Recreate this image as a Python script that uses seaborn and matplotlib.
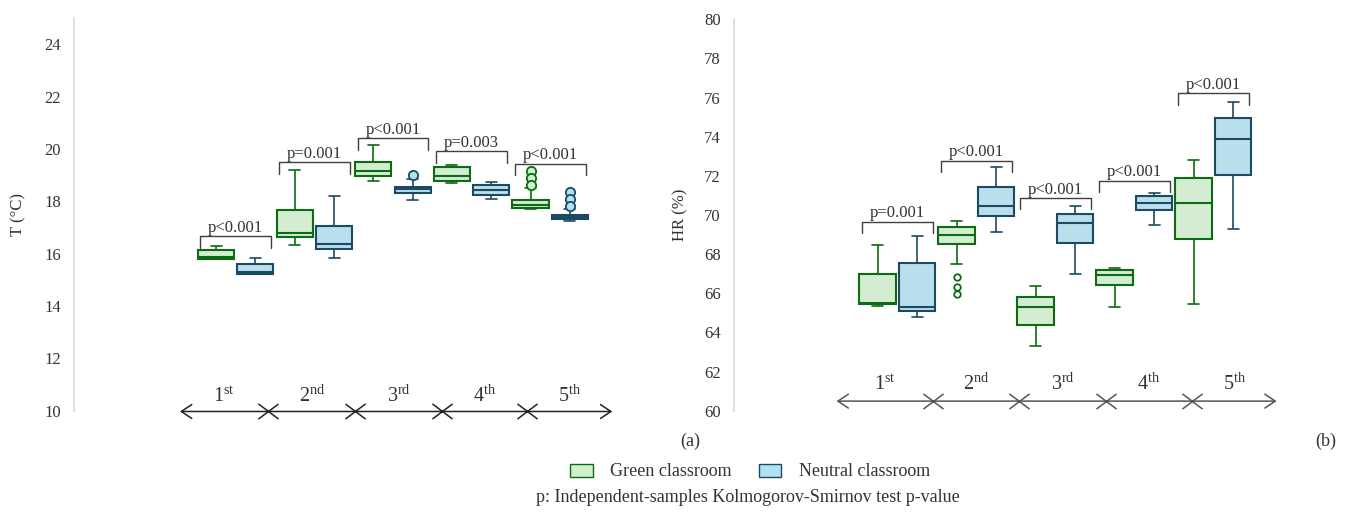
import numpy as np
import pandas as pd
import matplotlib
matplotlib.use("Agg")
import matplotlib.pyplot as plt
from matplotlib.patches import Patch
from matplotlib.path import Path
import seaborn as sns

# ---------------- data ----------------
periods = ["1st", "2nd", "3rd", "4th", "5th"]
period_labels = [r"1$^{\mathrm{st}}$", r"2$^{\mathrm{nd}}$", r"3$^{\mathrm{rd}}$",
                 r"4$^{\mathrm{th}}$", r"5$^{\mathrm{th}}$"]
rooms = ["Green classroom", "Neutral classroom"]

# five-number summaries: [lower whisker, Q1, median, Q3, upper whisker]
t_green = [[15.78, 15.81, 15.89, 16.13, 16.30],
           [16.34, 16.64, 16.80, 17.68, 19.19],
           [18.78, 18.99, 19.17, 19.50, 20.14],
           [18.70, 18.79, 18.96, 19.33, 19.41],
           [17.71, 17.75, 17.88, 18.06, 18.50]]
t_blue = [[15.21, 15.23, 15.31, 15.60, 15.82],
          [15.85, 16.18, 16.36, 17.07, 18.22],
          [18.07, 18.34, 18.46, 18.57, 18.86],
          [18.09, 18.24, 18.44, 18.63, 18.75],
          [17.27, 17.31, 17.40, 17.49, 17.72]]
t_green_out = [[], [], [], [], [19.18, 18.91, 18.63]]
t_blue_out = [[], [], [19.02], [], [18.36, 18.10, 17.84]]

hr_green = [[65.37, 65.47, 65.52, 66.96, 68.49],
            [67.52, 68.51, 69.00, 69.39, 69.68],
            [63.29, 64.36, 65.28, 65.83, 66.37],
            [65.30, 66.40, 66.93, 67.19, 67.30],
            [65.43, 68.75, 70.63, 71.89, 72.79]]
hr_blue = [[64.81, 65.11, 65.28, 67.56, 68.93],
           [69.15, 69.94, 70.48, 71.43, 72.44],
           [67.00, 68.56, 69.61, 70.04, 70.48],
           [69.50, 70.26, 70.63, 70.99, 71.14],
           [69.29, 72.03, 73.88, 74.98, 75.78]]
hr_green_out = [[], [66.83, 66.32, 65.98], [], [], []]
hr_blue_out = [[], [], [], [], []]

t_p = ["p<0.001", "p=0.001", "p<0.001", "p=0.003", "p<0.001"]
hr_p = ["p=0.001", "p<0.001", "p<0.001", "p<0.001", "p<0.001"]
t_bracket = [16.66, 19.50, 20.42, 19.91, 19.44]
hr_bracket = [69.66, 72.77, 70.87, 71.75, 76.21]

# period arrow boundaries (in group-axis units)
t_segments = [-0.71, 0.41, 1.52, 2.62, 3.70, 4.79]
hr_segments = [-0.77, 0.45, 1.54, 2.64, 3.73, 4.80]

# ---------------- style ----------------
sns.set_theme(style="white")
plt.rcParams["font.family"] = ["Liberation Serif", "DejaVu Serif"]
plt.rcParams["mathtext.fontset"] = "custom"
plt.rcParams["mathtext.rm"] = "Liberation Serif"
plt.rcParams["mathtext.it"] = "Liberation Serif:italic"
plt.rcParams["mathtext.bf"] = "Liberation Serif:bold"

fills = ["#CFF0CE", "#B1E2F4"]
edges = ["#0D6B12", "#1B4A62"]
text_col = "#333333"

GROUP_W = 1.0
GAP = 0.08

W, H = 1351, 512
fig = plt.figure(figsize=(W / 100, H / 100), dpi=100)
fig.patch.set_facecolor("white")
axL = fig.add_axes([74 / W, 1 - 410.7 / H, 586 / W, 392.4 / H])
axR = fig.add_axes([734 / W, 1 - 410.7 / H, 586 / W, 391.4 / H])

xmark = Path([(-1.33, -1), (1.33, 1), (-1.33, 1), (1.33, -1)],
             [Path.MOVETO, Path.LINETO, Path.MOVETO, Path.LINETO])


def long_df(green, blue):
    rows = []
    for i, p in enumerate(periods):
        for v in green[i]:
            rows.append((p, rooms[0], v))
        for v in blue[i]:
            rows.append((p, rooms[1], v))
    return pd.DataFrame(rows, columns=["period", "room", "value"])


def draw_panel(ax, green, blue, outs, pvals, tops, drop, ylim, yticks, ylabel,
               label_x, xlim, segs, arrow_y, label_y, arrow_col, out_fill, out_size):
    df = long_df(green, blue)
    for k, room in enumerate(rooms):
        sub = df[df["room"] == room]
        sns.boxplot(data=sub, x="period", y="value", hue="room", order=periods,
                    hue_order=rooms, palette=dict(zip(rooms, fills)), dodge=True,
                    width=GROUP_W, gap=GAP, whis=(0, 100), showfliers=False,
                    linecolor=edges[k], linewidth=1.5, legend=False, ax=ax,
                    whiskerprops={"linewidth": 1.2}, capprops={"linewidth": 1.2},
                    capwidths=0.14)
    # outliers
    for k in range(2):
        xs, ys = [], []
        for i in range(len(periods)):
            for v in outs[k][i]:
                xs.append(i + (k - 0.5) * GROUP_W / 2)
                ys.append(v)
        if xs:
            sns.scatterplot(x=xs, y=ys, ax=ax, s=out_size,
                            color=out_fill[k], edgecolor=edges[k],
                            linewidth=1.3, zorder=4, legend=False)
    # brackets with p values
    for i, (p, top) in enumerate(zip(pvals, tops)):
        ax.plot([i - 0.45, i - 0.45, i + 0.45, i + 0.45],
                [top - drop, top, top, top - drop],
                color="#404040", lw=1.0, zorder=5)
        ax.text(i, top + drop * 0.03, p, ha="center", va="bottom",
                fontsize=12, color=text_col)
    # period arrow
    ax.annotate("", xy=(segs[-1], arrow_y), xytext=(segs[0], arrow_y),
                arrowprops=dict(arrowstyle="<->,head_length=0.75,head_width=0.5",
                                color=arrow_col, lw=1.1, shrinkA=0, shrinkB=0,
                                mutation_scale=10),
                annotation_clip=False)
    ax.plot(segs[1:-1], [arrow_y] * (len(segs) - 2), linestyle="none",
            marker=xmark, ms=14.5, mec=arrow_col, mfc="none", mew=1.1,
            clip_on=False)
    for i, lab in enumerate(period_labels):
        ax.text((segs[i] + segs[i + 1]) / 2, label_y, lab, ha="center",
                va="baseline", fontsize=14.5, color=text_col)
    ax.set_xlim(*xlim)
    ax.set_ylim(*ylim)
    ax.set_yticks(yticks)
    ax.set_xticks([])
    ax.set_xlabel("")
    ax.set_ylabel(ylabel, fontsize=12, color=text_col)
    ax.yaxis.set_label_coords(label_x, 0.5)
    ax.tick_params(axis="y", length=0, pad=9.4, labelsize=12, labelcolor=text_col)
    for s in ["top", "right", "bottom"]:
        ax.spines[s].set_visible(False)
    ax.spines["left"].set_color("#D9D9D9")
    ax.spines["left"].set_linewidth(1.2)
    ax.set_facecolor("white")
    ax.grid(False)


draw_panel(axL, t_green, t_blue, [t_green_out, t_blue_out], t_p, t_bracket, 0.44,
           (10, 25), np.arange(10, 25, 2), "T (°C)", -0.082,
           (-2.058, 5.397), t_segments, 9.97, 10.34, "#222222",
           fills, 45)
draw_panel(axR, hr_green, hr_blue, [hr_green_out, hr_blue_out], hr_p, hr_bracket, 0.58,
           (60, 80), np.arange(60, 81, 2), "HR (%)", -0.077,
           (-2.068, 5.349), hr_segments, 60.49, 61.05, "#555555",
           ["white", "white"], 22)

fig.text(690 / W, 1 - 441 / H, "(a)", ha="center", va="center", fontsize=13,
         color=text_col)
fig.text(1326 / W, 1 - 441 / H, "(b)", ha="center", va="center", fontsize=13,
         color=text_col)

handles = [Patch(facecolor=fills[k], edgecolor=edges[k], linewidth=1.0) for k in range(2)]
fig.legend(handles, rooms, loc="center", bbox_to_anchor=(750 / W, 1 - 472 / H),
           ncol=2, frameon=False, fontsize=13, handlelength=1.25, handleheight=0.7,
           handletextpad=0.97, columnspacing=1.5, labelcolor=text_col)
fig.text(748 / W, 1 - 497 / H,
         "p: Independent-samples Kolmogorov-Smirnov test p-value",
         ha="center", va="center", fontsize=13, color=text_col)

fig.savefig("out.png", dpi=100, facecolor="white")
